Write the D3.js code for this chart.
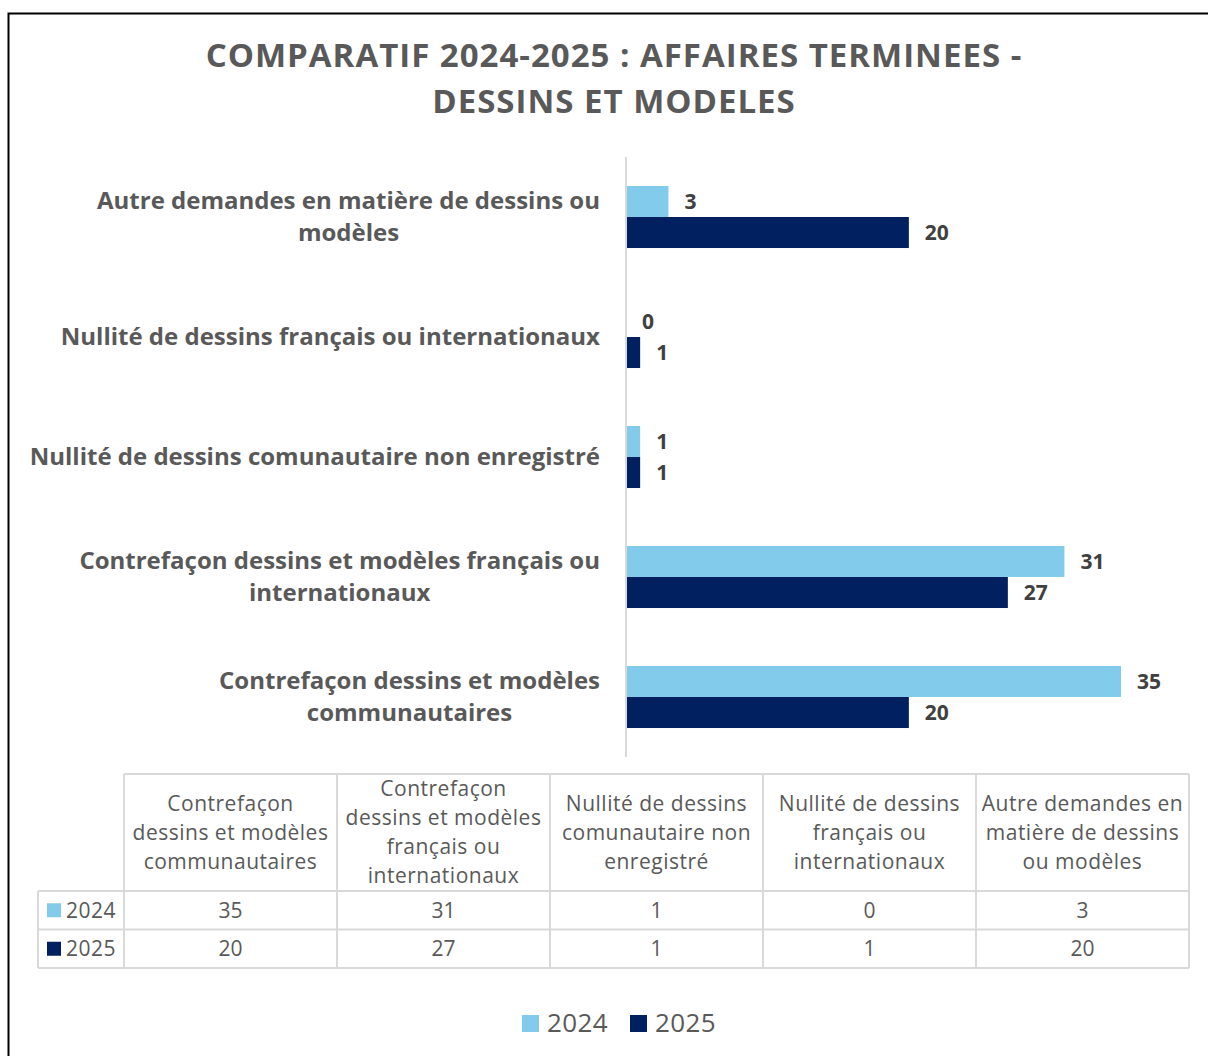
<!DOCTYPE html>
<html>
<head>
<meta charset="utf-8">
<script src="https://cdn.jsdelivr.net/npm/d3@7"></script>
<style>
  body { margin: 0; background: #fff; }
  svg { display: block; font-family: "Open Sans", "Noto Sans", sans-serif; }
</style>
</head>
<body>
<svg id="chart"></svg>
<script>
// data
var categories = [
    "Contrefaçon dessins et modèles communautaires",
    "Contrefaçon dessins et modèles français ou internationaux",
    "Nullité de dessins comunautaire non enregistré",
    "Nullité de dessins français ou internationaux",
    "Autre demandes en matière de dessins ou modèles"
];
var years = ["2024", "2025"];
var values2024 = [35, 31, 1, 0, 3];
var values2025 = [20, 27, 1, 1, 20];
var titleLines = ["COMPARATIF 2024-2025 : AFFAIRES TERMINEES -", "DESSINS ET MODELES"];

(function barChart() {
    var svg = d3.select("#chart").attr("width", 1208).attr("height", 1056);
    var colors = d3.scaleOrdinal().domain(years).range(["#83cbeb", "#002060"]);
    var series = [values2024, values2025];

    // frame
    svg.append("rect")
        .attr("x", 8.5).attr("y", 13.5)
        .attr("width", 1300).attr("height", 1100)
        .attr("fill", "none").attr("stroke", "#000").attr("stroke-width", 2);

    // title
    svg.append("g").selectAll("text")
        .data(titleLines)
        .enter().append("text")
        .attr("x", 614)
        .attr("y", function (d, i) { return 67 + i * 46; })
        .attr("text-anchor", "middle")
        .attr("font-size", 33)
        .attr("letter-spacing", 1)
        .attr("font-weight", "bold")
        .attr("fill", "#595959")
        .text(function (d) { return d; });

    var top = 157, bottom = 757, left = 626;

    var y = d3.scaleBand()
        .domain(categories.slice().reverse())
        .range([top, bottom])
        .paddingInner(0.483)
        .paddingOuter(0.2415);

    var y1 = d3.scaleBand().domain(years).range([0, y.bandwidth()]);

    var x = d3.scaleLinear().domain([0, 35]).range([left, 1121]);

    var rows = categories.map(function (c, i) {
        return {cat: c, vals: years.map(function (yr, j) { return {year: yr, value: series[j][i]}; })};
    });

    var groups = svg.append("g").selectAll("g")
        .data(rows)
        .enter().append("g")
        .attr("transform", function (d) { return "translate(0," + y(d.cat) + ")"; });

    groups.selectAll("rect")
        .data(function (d) { return d.vals; })
        .enter().append("rect")
        .attr("x", x(0))
        .attr("y", function (d) { return y1(d.year); })
        .attr("width", function (d) { return x(d.value) - x(0); })
        .attr("height", y1.bandwidth())
        .attr("fill", function (d) { return colors(d.year); });

    groups.selectAll("text")
        .data(function (d) { return d.vals; })
        .enter().append("text")
        .attr("x", function (d) { return x(d.value) + 16; })
        .attr("y", function (d) { return y1(d.year) + y1.bandwidth() / 2; })
        .attr("dy", "0.36em")
        .attr("font-size", 21)
        .attr("font-weight", "bold")
        .attr("fill", "#404040")
        .text(function (d) { return d.value; });

    // axis
    svg.append("line")
        .attr("x1", left).attr("x2", left)
        .attr("y1", top).attr("y2", bottom)
        .attr("stroke", "#d9d9d9").attr("stroke-width", 2);

    function wrap(textSel, width, lineHeight) {
        textSel.each(function (d) {
            var t = d3.select(this), words = d.split(" "), lines = [], line = [];
            var probe = t.text(null).append("tspan");
            words.forEach(function (w) {
                line.push(w);
                probe.text(line.join(" "));
                if (probe.node().getComputedTextLength() > width && line.length > 1) {
                    line.pop();
                    lines.push(line.join(" "));
                    line = [w];
                }
            });
            lines.push(line.join(" "));
            probe.remove();
            var x0 = +t.attr("x"), off = -(lines.length - 1) / 2 * lineHeight;
            lines.forEach(function (l, i) {
                t.append("tspan").attr("x", x0).attr("dy", i === 0 ? off + "px" : lineHeight + "px").text(l);
            });
        });
    }

    // category labels
    var catLabels = svg.append("g").selectAll("text")
        .data(categories)
        .enter().append("text")
        .attr("x", 600)
        .attr("y", function (d) { return y(d) + y.bandwidth() / 2 + 8; })
        .attr("font-size", 24)
        .attr("font-weight", "bold")
        .attr("fill", "#595959")
        .attr("text-anchor", "end")
        .text(function (d) { return d; });
    // two-line labels are centered on their own middle
    catLabels.each(function (d) {
        var t = d3.select(this);
        wrap(t, 580, 32);
        var n = t.selectAll("tspan").size();
        if (n > 1) {
            t.attr("text-anchor", "middle");
            var w = d3.max(t.selectAll("tspan").nodes(), function (s) { return s.getComputedTextLength(); });
            t.attr("x", 600 - w / 2);
            t.selectAll("tspan").attr("x", 600 - w / 2);
        }
    });

    // data table
    var tLeft = 38, tCol0 = 124, colW = 213, hTop = 774, hBot = 891, rowH = 38.5;
    var tx = d3.scaleBand().domain(categories).range([tCol0, tCol0 + colW * categories.length]);
    var table = svg.append("g");
    var lineColor = "#d9d9d9";

    table.append("line").attr("x1", tCol0).attr("x2", tx.range()[1]).attr("y1", hTop).attr("y2", hTop);
    [0, 1, 2].forEach(function (i) {
        table.append("line").attr("x1", tLeft).attr("x2", tx.range()[1])
            .attr("y1", hBot + i * rowH).attr("y2", hBot + i * rowH);
    });
    table.append("line").attr("x1", tLeft).attr("x2", tLeft).attr("y1", hBot).attr("y2", hBot + 2 * rowH);
    categories.forEach(function (c) {
        table.append("line").attr("x1", tx(c)).attr("x2", tx(c)).attr("y1", hTop).attr("y2", hBot + 2 * rowH);
    });
    table.append("line").attr("x1", tx.range()[1]).attr("x2", tx.range()[1]).attr("y1", hTop).attr("y2", hBot + 2 * rowH);
    table.selectAll("line").attr("stroke", lineColor).attr("stroke-width", 2);

    table.append("g").selectAll("text")
        .data(categories)
        .enter().append("text")
        .attr("x", function (d) { return tx(d) + colW / 2; })
        .attr("y", (hTop + hBot) / 2 + 7)
        .attr("text-anchor", "middle")
        .attr("font-size", 21)
        .attr("letter-spacing", 0.5)
        .attr("fill", "#595959")
        .text(function (d) { return d; })
        .call(wrap, 205, 29);

    years.forEach(function (yr, j) {
        var cy = hBot + j * rowH + rowH / 2;
        table.append("rect").attr("x", 47).attr("y", cy - 7).attr("width", 14).attr("height", 14)
            .attr("fill", colors(yr));
        table.append("text").attr("x", 66).attr("y", cy + 7.5)
            .attr("font-size", 21).attr("letter-spacing", 0.5)
            .attr("fill", "#595959").text(yr);
        table.append("g").selectAll("text")
            .data(series[j])
            .enter().append("text")
            .attr("x", function (d, i) { return tx(categories[i]) + colW / 2; })
            .attr("y", cy + 7.5)
            .attr("text-anchor", "middle")
            .attr("font-size", 21)
            .attr("fill", "#595959")
            .text(function (d) { return d; });
    });

    // legend
    var legend = svg.append("g").selectAll("g")
        .data(years)
        .enter().append("g")
        .attr("transform", function (d, i) { return "translate(" + (522 + i * 108) + ",1015)"; });
    legend.append("rect").attr("width", 17).attr("height", 17).attr("fill", colors);
    legend.append("text").attr("x", 25).attr("y", 17)
        .attr("font-size", 26).attr("letter-spacing", 0.4).attr("fill", "#595959")
        .text(function (d) { return d; });
}());
</script>
</body>
</html>
